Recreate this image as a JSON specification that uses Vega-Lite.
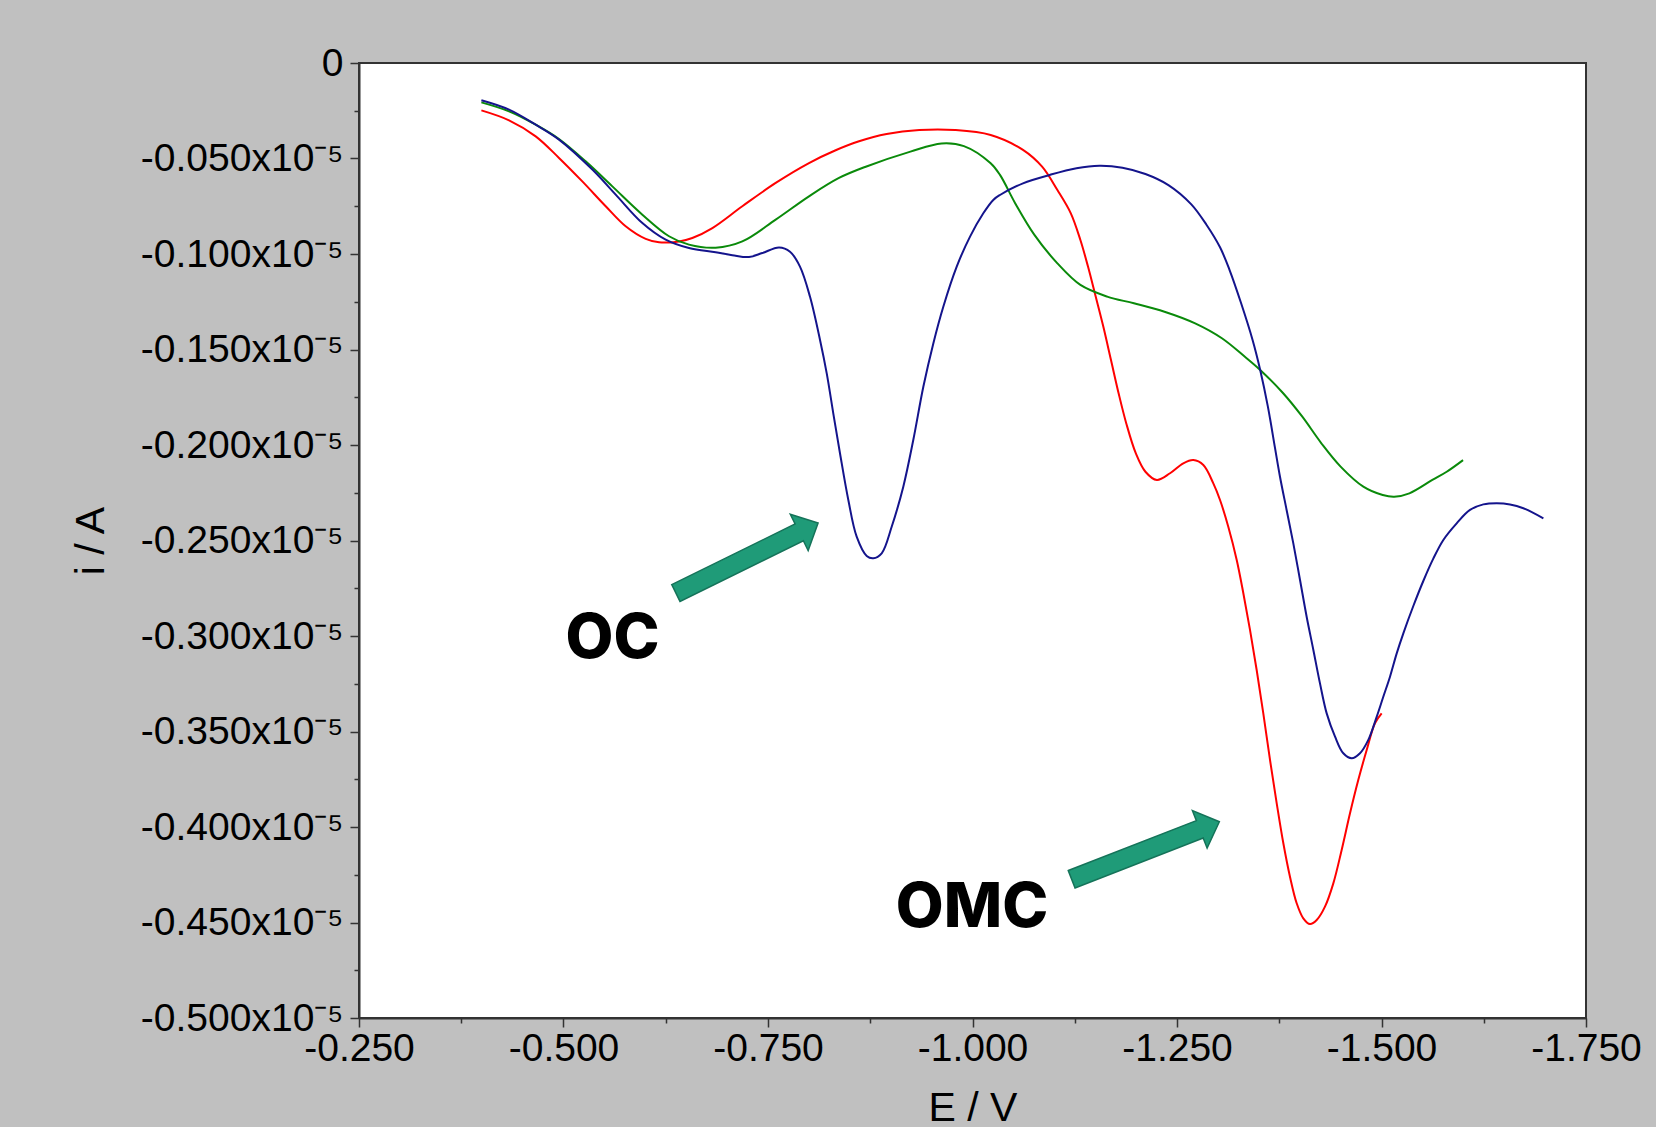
{
  "$schema": "https://vega.github.io/schema/vega-lite/v6.json",
  "width": 1227,
  "height": 955,
  "autosize": {"type": "none"},
  "padding": {"left": 359, "top": 63, "right": 70, "bottom": 109},
  "background": "#c0c0c0",
  "config": {
    "view": {"fill": "white", "stroke": "#333333", "strokeWidth": 2},
    "axis": {
      "grid": false,
      "domainColor": "#333333",
      "domainWidth": 2,
      "tickColor": "#333333",
      "tickWidth": 1.5,
      "labelFont": "Liberation Sans",
      "labelColor": "black",
      "labelLimit": 0,
      "titleFont": "Liberation Sans",
      "titleColor": "black",
      "titleFontWeight": "normal"
    }
  },
  "datasets": {
    "curves": [
      {"series":"S1","E":-0.3996,"i":-0.0248},{"series":"S1","E":-0.4334,"i":-0.0300},{"series":"S1","E":-0.466,"i":-0.0384},{"series":"S1","E":-0.4945,"i":-0.0497},{"series":"S1","E":-0.523,"i":-0.062},{"series":"S1","E":-0.5516,"i":-0.075},{"series":"S1","E":-0.576,"i":-0.0855},{"series":"S1","E":-0.6005,"i":-0.0921},{"series":"S1","E":-0.6168,"i":-0.0939},{"series":"S1","E":-0.6412,"i":-0.0934},{"series":"S1","E":-0.6575,"i":-0.0916},{"series":"S1","E":-0.682,"i":-0.0864},{"series":"S1","E":-0.7186,"i":-0.075},{"series":"S1","E":-0.7594,"i":-0.0628},{"series":"S1","E":-0.8001,"i":-0.0524},{"series":"S1","E":-0.8327,"i":-0.0457},{"series":"S1","E":-0.8613,"i":-0.041},{"series":"S1","E":-0.895,"i":-0.0372},{"series":"S1","E":-0.935,"i":-0.0351},{"series":"S1","E":-0.9786,"i":-0.0351},{"series":"S1","E":-1.0222,"i":-0.0377},{"series":"S1","E":-1.0617,"i":-0.0455},{"series":"S1","E":-1.0851,"i":-0.0543},{"series":"S1","E":-1.1038,"i":-0.0665},{"series":"S1","E":-1.1202,"i":-0.0787},{"series":"S1","E":-1.1319,"i":-0.0927},{"series":"S1","E":-1.1412,"i":-0.1066},{"series":"S1","E":-1.1506,"i":-0.1223},{"series":"S1","E":-1.1599,"i":-0.138},{"series":"S1","E":-1.1693,"i":-0.1555},{"series":"S1","E":-1.1786,"i":-0.1729},{"series":"S1","E":-1.188,"i":-0.1887},{"series":"S1","E":-1.1997,"i":-0.2044},{"series":"S1","E":-1.2114,"i":-0.214},{"series":"S1","E":-1.2254,"i":-0.2183},{"series":"S1","E":-1.2415,"i":-0.2148},{"series":"S1","E":-1.2577,"i":-0.2096},{"series":"S1","E":-1.27,"i":-0.2079},{"series":"S1","E":-1.2822,"i":-0.2105},{"series":"S1","E":-1.2944,"i":-0.2201},{"series":"S1","E":-1.3026,"i":-0.2288},{"series":"S1","E":-1.3127,"i":-0.2428},{"series":"S1","E":-1.323,"i":-0.2602},{"series":"S1","E":-1.3311,"i":-0.2776},{"series":"S1","E":-1.3393,"i":-0.2969},{"series":"S1","E":-1.3474,"i":-0.3178},{"series":"S1","E":-1.3555,"i":-0.3405},{"series":"S1","E":-1.3637,"i":-0.3649},{"series":"S1","E":-1.3719,"i":-0.3876},{"series":"S1","E":-1.38,"i":-0.4085},{"series":"S1","E":-1.3881,"i":-0.426},{"series":"S1","E":-1.3963,"i":-0.4399},{"series":"S1","E":-1.4044,"i":-0.4478},{"series":"S1","E":-1.4126,"i":-0.4508},{"series":"S1","E":-1.4208,"i":-0.4487},{"series":"S1","E":-1.4309,"i":-0.4417},{"series":"S1","E":-1.4411,"i":-0.4295},{"series":"S1","E":-1.4513,"i":-0.412},{"series":"S1","E":-1.4615,"i":-0.3928},{"series":"S1","E":-1.4716,"i":-0.3754},{"series":"S1","E":-1.4819,"i":-0.3597},{"series":"S1","E":-1.492,"i":-0.3457},{"series":"S1","E":-1.5002,"i":-0.3405},

      {"series":"S2","E":-0.3996,"i":-0.0206},{"series":"S2","E":-0.4334,"i":-0.0253},{"series":"S2","E":-0.466,"i":-0.0323},{"series":"S2","E":-0.4945,"i":-0.0398},{"series":"S2","E":-0.5271,"i":-0.0515},{"series":"S2","E":-0.5597,"i":-0.0646},{"series":"S2","E":-0.5964,"i":-0.0794},{"series":"S2","E":-0.629,"i":-0.0907},{"series":"S2","E":-0.6534,"i":-0.0951},{"series":"S2","E":-0.686,"i":-0.0967},{"series":"S2","E":-0.7186,"i":-0.0934},{"series":"S2","E":-0.7594,"i":-0.082},{"series":"S2","E":-0.8001,"i":-0.0698},{"series":"S2","E":-0.8368,"i":-0.0602},{"series":"S2","E":-0.8695,"i":-0.0543},{"series":"S2","E":-0.9241,"i":-0.0464},{"series":"S2","E":-0.9622,"i":-0.0421},{"series":"S2","E":-0.9895,"i":-0.0435},{"series":"S2","E":-1.0222,"i":-0.0525},{"series":"S2","E":-1.0336,"i":-0.0586},{"series":"S2","E":-1.0523,"i":-0.0735},{"series":"S2","E":-1.0757,"i":-0.09},{"series":"S2","E":-1.1038,"i":-0.1049},{"series":"S2","E":-1.1319,"i":-0.1162},{"series":"S2","E":-1.1646,"i":-0.1223},{"series":"S2","E":-1.1973,"i":-0.1258},{"series":"S2","E":-1.2347,"i":-0.1302},{"series":"S2","E":-1.2722,"i":-0.1363},{"series":"S2","E":-1.3049,"i":-0.1441},{"series":"S2","E":-1.333,"i":-0.1538},{"series":"S2","E":-1.3517,"i":-0.1607},{"series":"S2","E":-1.3798,"i":-0.1729},{"series":"S2","E":-1.4032,"i":-0.1852},{"series":"S2","E":-1.4265,"i":-0.1991},{"series":"S2","E":-1.45,"i":-0.2113},{"series":"S2","E":-1.4778,"i":-0.2218},{"series":"S2","E":-1.5015,"i":-0.2262},{"series":"S2","E":-1.5155,"i":-0.2271},{"series":"S2","E":-1.5341,"i":-0.2253},{"series":"S2","E":-1.5622,"i":-0.2183},{"series":"S2","E":-1.5797,"i":-0.214},{"series":"S2","E":-1.5997,"i":-0.2079},

      {"series":"S3","E":-0.3996,"i":-0.0195},{"series":"S3","E":-0.4334,"i":-0.0244},{"series":"S3","E":-0.466,"i":-0.0323},{"series":"S3","E":-0.4945,"i":-0.0401},{"series":"S3","E":-0.5353,"i":-0.0558},{"series":"S3","E":-0.5638,"i":-0.0689},{"series":"S3","E":-0.5964,"i":-0.0838},{"series":"S3","E":-0.6249,"i":-0.0925},{"series":"S3","E":-0.6534,"i":-0.0969},{"series":"S3","E":-0.686,"i":-0.0991},{"series":"S3","E":-0.7064,"i":-0.1006},{"series":"S3","E":-0.7268,"i":-0.1016},{"series":"S3","E":-0.7431,"i":-0.0995},{"series":"S3","E":-0.7635,"i":-0.0966},{"series":"S3","E":-0.7769,"i":-0.0988},{"series":"S3","E":-0.7891,"i":-0.1066},{"series":"S3","E":-0.8013,"i":-0.1223},{"series":"S3","E":-0.8136,"i":-0.145},{"series":"S3","E":-0.8218,"i":-0.1625},{"series":"S3","E":-0.8298,"i":-0.1834},{"series":"S3","E":-0.838,"i":-0.2043},{"series":"S3","E":-0.8482,"i":-0.2288},{"series":"S3","E":-0.8584,"i":-0.248},{"series":"S3","E":-0.8707,"i":-0.2581},{"series":"S3","E":-0.8787,"i":-0.2593},{"series":"S3","E":-0.889,"i":-0.2567},{"series":"S3","E":-0.9012,"i":-0.2428},{"series":"S3","E":-0.9154,"i":-0.2218},{"series":"S3","E":-0.9276,"i":-0.1974},{"series":"S3","E":-0.9399,"i":-0.1695},{"series":"S3","E":-0.9521,"i":-0.1468},{"series":"S3","E":-0.9643,"i":-0.1276},{"series":"S3","E":-0.9807,"i":-0.1066},{"series":"S3","E":-0.997,"i":-0.0909},{"series":"S3","E":-1.0132,"i":-0.0787},{"series":"S3","E":-1.0254,"i":-0.0717},{"series":"S3","E":-1.0336,"i":-0.0691},{"series":"S3","E":-1.0617,"i":-0.063},{"series":"S3","E":-1.0944,"i":-0.0586},{"series":"S3","E":-1.1271,"i":-0.0551},{"series":"S3","E":-1.1553,"i":-0.0538},{"series":"S3","E":-1.1833,"i":-0.0548},{"series":"S3","E":-1.2114,"i":-0.0581},{"series":"S3","E":-1.2395,"i":-0.0639},{"series":"S3","E":-1.2675,"i":-0.074},{"series":"S3","E":-1.2862,"i":-0.0848},{"series":"S3","E":-1.3026,"i":-0.0965},{"series":"S3","E":-1.3143,"i":-0.1084},{"series":"S3","E":-1.3284,"i":-0.1258},{"series":"S3","E":-1.3424,"i":-0.145},{"series":"S3","E":-1.3517,"i":-0.1607},{"series":"S3","E":-1.3611,"i":-0.1799},{"series":"S3","E":-1.3698,"i":-0.2015},{"series":"S3","E":-1.3759,"i":-0.2166},{"series":"S3","E":-1.384,"i":-0.234},{"series":"S3","E":-1.3922,"i":-0.2515},{"series":"S3","E":-1.4004,"i":-0.2707},{"series":"S3","E":-1.4085,"i":-0.2899},{"series":"S3","E":-1.4167,"i":-0.3073},{"series":"S3","E":-1.4248,"i":-0.3248},{"series":"S3","E":-1.433,"i":-0.3405},{"series":"S3","E":-1.4432,"i":-0.3527},{"series":"S3","E":-1.4533,"i":-0.3614},{"series":"S3","E":-1.4636,"i":-0.364},{"series":"S3","E":-1.4737,"i":-0.3614},{"series":"S3","E":-1.4839,"i":-0.3544},{"series":"S3","E":-1.4942,"i":-0.3422},{"series":"S3","E":-1.5022,"i":-0.3318},{"series":"S3","E":-1.5104,"i":-0.3213},{"series":"S3","E":-1.5186,"i":-0.3091},{"series":"S3","E":-1.5267,"i":-0.2986},{"series":"S3","E":-1.5389,"i":-0.2843},{"series":"S3","E":-1.5511,"i":-0.2712},{"series":"S3","E":-1.5633,"i":-0.2595},{"series":"S3","E":-1.5756,"i":-0.2497},{"series":"S3","E":-1.5919,"i":-0.241},{"series":"S3","E":-1.6082,"i":-0.234},{"series":"S3","E":-1.6245,"i":-0.2311},{"series":"S3","E":-1.6408,"i":-0.2305},{"series":"S3","E":-1.6571,"i":-0.2311},{"series":"S3","E":-1.6734,"i":-0.2331},{"series":"S3","E":-1.6979,"i":-0.2384}
    ],
    "notes": [
      {"label": "OC", "E": -0.5599, "i": -0.3117},
      {"label": "OMC", "E": -0.9994, "i": -0.4522}
    ],
    "arrows": [
      {"target": "OC", "E": -0.7243, "i": -0.2592},
      {"target": "OMC", "E": -1.2115, "i": -0.4123}
    ]
  },
  "resolve": {"axis": {"x": "independent", "y": "independent"}},
  "layer": [
    {
      "data": {"name": "curves"},
      "mark": {"type": "line", "strokeWidth": 2, "interpolate": "catmull-rom"},
      "encoding": {
        "x": {
          "field": "E", "type": "quantitative",
          "scale": {"domain": [-1.75, -0.25], "reverse": true, "nice": false, "zero": false},
          "axis": {
            "orient": "bottom",
            "values": [-0.25, -0.5, -0.75, -1, -1.25, -1.5, -1.75],
            "labelExpr": "replace(format(datum.value, '.3f'), '\u2212', '-')",
            "labelFlush": false,
            "labelOverlap": false,
            "tickSize": 9,
            "labelPadding": 2,
            "labelFontSize": 39,
            "title": "E / V",
            "titleFontSize": 41,
            "titlePadding": 20
          }
        },
        "y": {
          "field": "i", "type": "quantitative",
          "scale": {"domain": [-0.5, 0], "nice": false, "zero": false},
          "axis": {
            "orient": "left",
            "values": [0, -0.05, -0.1, -0.15, -0.2, -0.25, -0.3, -0.35, -0.4, -0.45, -0.5],
            "labelExpr": "datum.value == 0 ? '0' : replace(format(datum.value, '.3f'), '\u2212', '-') + 'x10\u207b\u2075'",
            "labelOverlap": false,
            "tickSize": 9,
            "labelPadding": 7,
            "labelFontSize": 39,
            "title": "i / A",
            "titleFontSize": 41,
            "titlePadding": 47
          }
        },
        "color": {
          "field": "series", "type": "nominal",
          "scale": {"domain": ["S1", "S2", "S3"], "range": ["#ff0000", "#0a8a0a", "#14148c"]},
          "legend": null
        }
      }
    },
    {
      "data": {"name": "notes"},
      "mark": {"type": "text", "font": "Inter", "fontWeight": 800, "fontSize": 62, "color": "black", "align": "center", "baseline": "alphabetic"},
      "encoding": {
        "x": {
          "field": "E", "type": "quantitative",
          "axis": {"orient": "bottom", "values": [-0.375, -0.625, -0.875, -1.125, -1.375, -1.625], "labels": false, "domain": false, "tickSize": 5, "title": null}
        },
        "y": {
          "field": "i", "type": "quantitative",
          "axis": {"orient": "left", "values": [-0.025, -0.075, -0.125, -0.175, -0.225, -0.275, -0.325, -0.375, -0.425, -0.475], "labels": false, "domain": false, "tickSize": 5, "title": null}
        },
        "text": {"field": "label"}
      }
    },
    {
      "data": {"name": "arrows"},
      "transform": [{"filter": "datum.target == 'OC'"}],
      "mark": {"type": "point", "shape": "M-1,-0.118L0.735,-0.118L0.735,-0.255L1,0L0.735,0.255L0.735,0.118L-1,0.118Z", "size": 25122, "angle": 333.8, "filled": true, "fill": "#1f9b78", "stroke": "#157359", "strokeWidth": 1.5, "opacity": 1},
      "encoding": {
        "x": {"field": "E", "type": "quantitative", "axis": null},
        "y": {"field": "i", "type": "quantitative", "axis": null}
      }
    },
    {
      "data": {"name": "arrows"},
      "transform": [{"filter": "datum.target == 'OMC'"}],
      "mark": {"type": "point", "shape": "M-1,-0.118L0.735,-0.118L0.735,-0.255L1,0L0.735,0.255L0.735,0.118L-1,0.118Z", "size": 25122, "angle": 338.7, "filled": true, "fill": "#1f9b78", "stroke": "#157359", "strokeWidth": 1.5, "opacity": 1},
      "encoding": {
        "x": {"field": "E", "type": "quantitative", "axis": null},
        "y": {"field": "i", "type": "quantitative", "axis": null}
      }
    }
  ]
}
